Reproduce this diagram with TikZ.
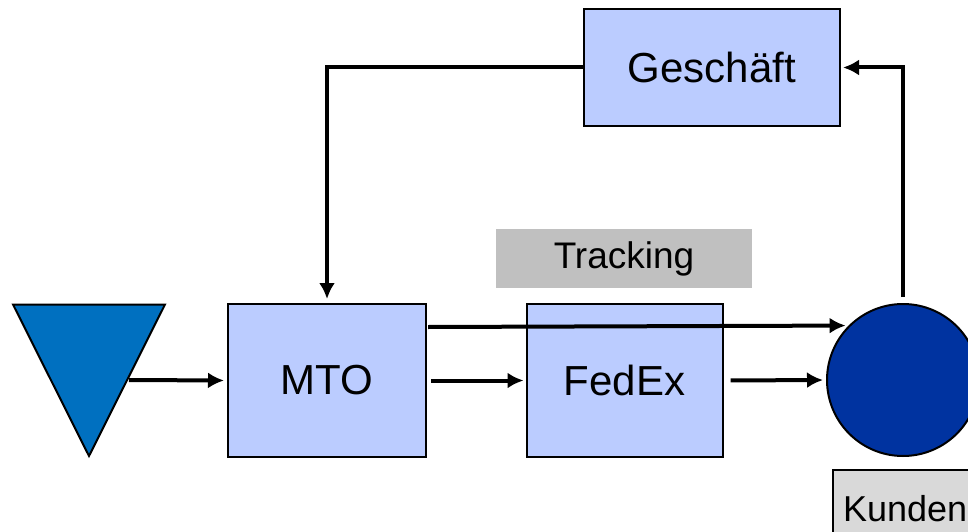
\documentclass[tikz,border=0pt]{standalone}
\usepackage{fontspec}
\setmainfont{Liberation Sans}
\usetikzlibrary{arrows.meta,calc}
\definecolor{boxblue}{RGB}{187,204,255}
\definecolor{tribl}{RGB}{0,112,192}
\definecolor{circbl}{RGB}{0,51,160}
\definecolor{trackgray}{RGB}{192,192,192}
\definecolor{kundgray}{RGB}{217,217,217}
\tikzset{
  procbox/.style={draw=black,line width=2pt,fill=boxblue,inner sep=0pt,font=\fontsize{42}{48}\selectfont},
  flow/.style={line width=4pt,-{Latex[length=16pt,width=16pt]}},
}
\begin{document}
\begin{tikzpicture}[x=1pt,y=-1pt]
\useasboundingbox (0,0) rectangle (968,532);
% nodes
\node[procbox,minimum width=256pt,minimum height=117pt] (gesch) at (712,67.5) {Geschäft};
\node[procbox,minimum width=198pt,minimum height=153pt] (mto) at (327,380.5) {MTO};
\node[procbox,minimum width=196pt,minimum height=153pt] (fedex) at (624.5,380.5) {FedEx};
\node[fill=trackgray,minimum width=256pt,minimum height=59pt,inner sep=0pt,font=\fontsize{37}{44}\selectfont] (track) at (624,258.5) {Tracking};
\node[draw=black,line width=2pt,fill=kundgray,anchor=north west,minimum height=78pt,inner xsep=10pt,inner ysep=0pt,font=\fontsize{36}{42}\selectfont] (kund) at (832,469) {Kunden};
\node[circle,draw=black,line width=2pt,fill=circbl,minimum size=152pt,inner sep=0pt] (circ) at (903,380) {};
\draw[line width=2pt,fill=tribl] (13,304.5) -- (165,304.5) -- (89,456) -- cycle;
\coordinate (tri) at (129,380);
\coordinate (trackstart) at (428,327);
% connectors
\draw[flow,shorten >=3pt] (tri) -- (mto.west);
\draw[flow,shorten <=4pt,shorten >=2pt] (mto.east) -- (fedex.west);
\draw[flow,shorten <=7pt,shorten >=3pt] (fedex.east) -- (circ.west);
\draw[flow,shorten >=3pt] (trackstart) -- (circ.135.8);
\draw[flow,shorten <=6pt,shorten >=2pt] (circ.north) |- (gesch.east);
\draw[flow,shorten >=4pt] (gesch.west) -| (mto.north);
\end{tikzpicture}
\end{document}
